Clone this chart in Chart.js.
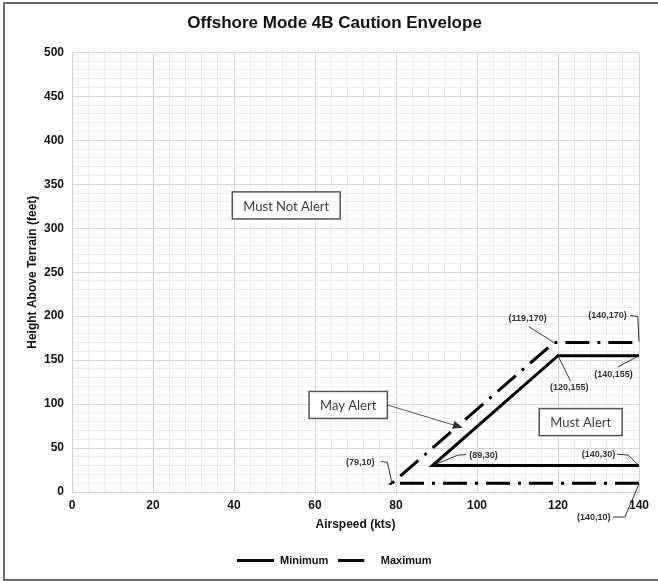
<!DOCTYPE html>
<html><head><meta charset="utf-8">
<script src="https://cdn.jsdelivr.net/npm/chart.js@4"></script>
<style>html,body{margin:0;padding:0;background:#fff}#wrap{width:658px;height:581px;position:relative}canvas{display:block}</style>
</head><body><div id="wrap"><canvas id="c" width="658" height="581"></canvas></div>
<script>
// ---- data ----
const chartTitle = 'Offshore Mode 4B Caution Envelope';
const xAxisTitle = 'Airspeed (kts)';
const yAxisTitle = 'Height Above Terrain (feet)';
const xTickLabels = [0, 20, 40, 60, 80, 100, 120, 140];
const yTickLabels = [0, 50, 100, 150, 200, 250, 300, 350, 400, 450, 500];
const seriesNames = ['Minimum', 'Maximum'];
const minimumX = [140, 89, 120, 140];
const minimumY = [30, 30, 155, 155];
const maximumX = [140, 79, 119, 140];
const maximumY = [10, 10, 170, 170];

// region call-outs (data coordinates of the box centres)
const regionLabels = ['Must Not Alert', 'May Alert', 'Must Alert'];
const regionX = [52.9, 68.2, 125.6];
const regionY = [326, 99, 79.5];
// arrow from "May Alert" to the zone between the lines
const arrowTarget = {x: 96.5, y: 73};

// coordinate call-outs: text, label centre, leader path (data coords)
const pointLabels = ['(119,170)', '(140,170)', '(140,155)', '(120,155)', '(89,30)', '(140,30)', '(79,10)', '(140,10)'];
const pointLabelX = [112.5, 132.2, 133.7, 122.8, 101.6, 130.0, 71.2, 128.8];
const pointLabelY = [197.7, 200.5, 134, 119.3, 41.5, 43, 34, -29.5];
const leaderPaths = [
  [[112.8, 188], [119, 170]],
  [[137.8, 201], [139.7, 199.5], [140, 171]],
  [[134.7, 142], [140, 155]],
  [[123.1, 126], [120, 155]],
  [[97.3, 42.5], [95.3, 42], [89, 30]],
  [[134.6, 43], [137.3, 42], [140, 30]],
  [[76.3, 35], [77.9, 33.5], [79, 10]],
  [[133.6, -28.5], [136.5, -28.5], [140, 9]]
];

const toPts = (xs, ys) => xs.map((x, i) => ({x, y: ys[i]}));

// legend swatches
function swatch(dashLen) {
  const cv = document.createElement('canvas');
  cv.width = 37; cv.height = 3;
  const g = cv.getContext('2d');
  g.fillStyle = '#000';
  g.fillRect(0, 0, dashLen, 3);
  return cv;
}
const minSwatch = swatch(37);
const maxSwatch = swatch(26);

Chart.defaults.font.family = '"Liberation Sans", Arial, sans-serif';
Chart.defaults.color = '#111';

const frame = {
  id: 'frame',
  beforeDraw(chart) {
    const c = chart.ctx;
    c.save();
    c.fillStyle = '#fff';
    c.fillRect(0, 0, chart.width, chart.height);
    c.strokeStyle = '#6b6b6b';
    c.lineWidth = 2;
    c.strokeRect(4, 3, chart.width + 10, chart.height - 4);
    c.restore();
  }
};

const callouts = {
  id: 'callouts',
  afterDraw(chart) {
    const c = chart.ctx, xs = chart.scales.x, ys = chart.scales.y;
    const px = v => xs.getPixelForValue(v), py = v => ys.getPixelForValue(v);
    c.save();
    c.font = '13px Lato, "Open Sans", sans-serif';
    c.textAlign = 'center';
    c.textBaseline = 'middle';
    const boxes = [];
    regionLabels.forEach((t, i) => {
      const w = c.measureText(t).width + 22, h = 27;
      const cx = px(regionX[i]), cy = py(regionY[i]);
      c.fillStyle = '#fff';
      c.fillRect(cx - w / 2, cy - h / 2, w, h);
      c.strokeStyle = '#555';
      c.lineWidth = 1.5;
      c.strokeRect(cx - w / 2, cy - h / 2, w, h);
      c.fillStyle = '#3c3c3c';
      c.fillText(t, cx, cy + 1);
      boxes.push({cx, cy, w, h});
    });
    const b = boxes[1];
    const sx = b.cx + b.w / 2, sy = b.cy;
    const tx = px(arrowTarget.x), ty = py(arrowTarget.y);
    const ang = Math.atan2(ty - sy, tx - sx);
    c.strokeStyle = '#555';
    c.lineWidth = 1;
    c.beginPath();
    c.moveTo(sx, sy);
    c.lineTo(tx - 8 * Math.cos(ang), ty - 8 * Math.sin(ang));
    c.stroke();
    c.fillStyle = '#333';
    c.beginPath();
    c.moveTo(tx, ty);
    c.lineTo(tx - 10 * Math.cos(ang) + 4 * Math.sin(ang), ty - 10 * Math.sin(ang) - 4 * Math.cos(ang));
    c.lineTo(tx - 10 * Math.cos(ang) - 4 * Math.sin(ang), ty - 10 * Math.sin(ang) + 4 * Math.cos(ang));
    c.closePath();
    c.fill();
    c.font = 'bold 9px "Liberation Sans", Arial, sans-serif';
    c.fillStyle = '#333';
    pointLabels.forEach((t, i) => {
      c.fillText(t, px(pointLabelX[i]), py(pointLabelY[i]));
    });
    c.strokeStyle = '#333';
    c.lineWidth = 1;
    leaderPaths.forEach(p => {
      c.beginPath();
      p.forEach((q, j) => j ? c.lineTo(px(q[0]), py(q[1])) : c.moveTo(px(q[0]), py(q[1])));
      c.stroke();
    });
    c.restore();
  }
};

new Chart(document.getElementById('c'), {
  type: 'line',
  data: {
    datasets: [
      {label: seriesNames[0], data: toPts(minimumX, minimumY), borderColor: '#000', backgroundColor: '#000',
       borderWidth: 3, pointRadius: 0, pointStyle: minSwatch, borderJoinStyle: 'miter', tension: 0, fill: false},
      {label: seriesNames[1], data: toPts(maximumX, maximumY), borderColor: '#000', backgroundColor: '#000',
       borderWidth: 3, borderDash: [24, 8, 3, 8], pointRadius: 0, pointStyle: maxSwatch, borderJoinStyle: 'miter', tension: 0, fill: false}
    ]
  },
  options: {
    responsive: false,
    animation: false,
    devicePixelRatio: 1,
    layout: {padding: {left: 30, right: 19, top: 0, bottom: 5}},
    plugins: {
      title: {display: true, text: chartTitle, font: {size: 17, weight: 'bold'}, color: '#111',
              padding: {top: 13, bottom: 19}},
      legend: {position: 'bottom',
        labels: {usePointStyle: true, pointStyleWidth: 37, padding: 10,
                 font: {size: 11, weight: 'bold'}, color: '#111'}},
      tooltip: {enabled: false}
    },
    scales: {
      x: {type: 'linear', min: 0, max: 140,
          afterFit: s => { s.height = 53; },
          ticks: {stepSize: 4, autoSkip: false, maxRotation: 0, padding: 6,
                  font: {size: 12, weight: 'bold'}, color: '#111',
                  callback: v => xTickLabels.includes(v) ? String(v) : ''},
          grid: {drawTicks: false, color: c => (c.tick && c.tick.value % 20 === 0) ? '#d4d4d4' : '#ececec'},
          border: {color: '#cfcfcf'},
          title: {display: true, text: xAxisTitle, font: {size: 12, weight: 'bold'}, color: '#111',
                  padding: {top: 0, bottom: 13}}},
      y: {min: 0, max: 500,
          afterFit: s => { s.width = 42; },
          ticks: {stepSize: 10, autoSkip: false, padding: 8,
                  font: {size: 12, weight: 'bold'}, color: '#111',
                  callback: v => yTickLabels.includes(v) ? String(v) : ''},
          grid: {drawTicks: false, color: c => (c.tick && c.tick.value % 50 === 0) ? '#d4d4d4' : '#ececec'},
          border: {color: '#cfcfcf'},
          title: {display: true, text: yAxisTitle, font: {size: 12, weight: 'bold'}, color: '#111',
                  padding: {top: -5, bottom: 0}}}
    }
  },
  plugins: [frame, callouts]
});
</script></body></html>
